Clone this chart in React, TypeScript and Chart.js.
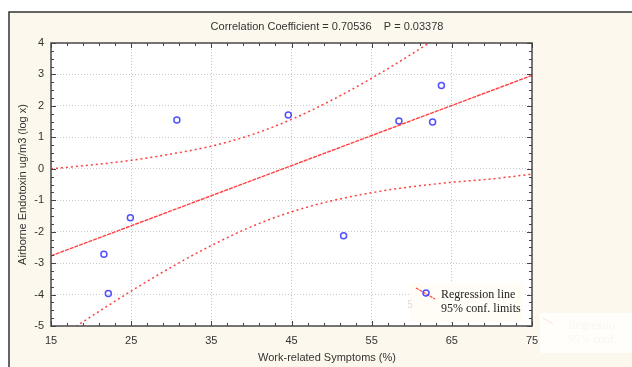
import React, { useEffect, useRef } from "react";
import { Chart, registerables } from "chart.js";

Chart.register(...registerables);

// ---- data ----
const pointX = [21.6, 22.15, 24.9, 30.7, 44.6, 51.5, 58.4, 62.6, 63.7];
const pointY = [-2.72, -3.97, -1.56, 1.55, 1.71, -2.13, 1.52, 1.49, 2.65];
const lineX = [15, 75];
const lineY = [-2.77, 2.97];
const bandX = [15, 20, 25, 30, 35, 40, 45, 50, 55, 60, 65, 70, 75];
const upperY = [0.0, 0.12, 0.27, 0.47, 0.72, 1.08, 1.57, 2.18, 2.88, 3.65, 4.47, 5.3, 6.11];
const lowerY = [-5.54, -4.7, -3.89, -3.13, -2.44, -1.84, -1.37, -1.02, -0.76, -0.57, -0.43, -0.32, -0.17];
const xTicks = [15, 25, 35, 45, 55, 65, 75];
const yTicks = [-5, -4, -3, -2, -1, 0, 1, 2, 3, 4];
const titleText = "Correlation Coefficient = 0.70536    P = 0.03378";
const xTitle = "Work-related Symptoms (%)";
const yTitle = "Airborne Endotoxin ug/m3 (log x)";
const legendLabels = ["Regression line", "95% conf. limits"];

const SANS = "'Liberation Sans', Arial, sans-serif";
const SERIF = "'Liberation Serif', 'Times New Roman', serif";
const CREAM = "#fdf8ed";
const RED = "rgba(255,30,30,0.85)";
const BLUE = "#5050ff";

const zip = (xs: number[], ys: number[]) => xs.map((x, i) => ({ x, y: ys[i] }));

const decorPlugin = {
  id: "decor",
  beforeDraw(chart: any) {
    const { ctx, chartArea: a } = chart;
    ctx.save();
    ctx.fillStyle = "#ffffff";
    ctx.fillRect(0, 0, chart.width, chart.height);
    ctx.fillStyle = CREAM;
    ctx.fillRect(9, 12, chart.width - 9, chart.height - 12);
    ctx.strokeStyle = "#333";
    ctx.lineWidth = 1.5;
    ctx.beginPath();
    ctx.moveTo(9, chart.height);
    ctx.lineTo(9, 12);
    ctx.lineTo(chart.width, 12);
    ctx.stroke();
    ctx.fillStyle = "#ffffff";
    ctx.fillRect(a.left, a.top, a.right - a.left, a.bottom - a.top);
    // ghost legend outside plot
    ctx.fillStyle = "#fffefa";
    ctx.fillRect(540, 313, 92, 40);
    ctx.strokeStyle = "rgba(255,80,80,0.18)";
    ctx.lineWidth = 1;
    ctx.beginPath();
    ctx.moveTo(543, 318);
    ctx.lineTo(553, 324);
    ctx.stroke();
    ctx.fillStyle = "rgba(200,190,170,0.12)";
    ctx.font = `12px ${SERIF}`;
    ctx.textBaseline = "middle";
    ctx.fillText("Regressio", 568, 326);
    ctx.fillText("95% conf.", 568, 340);
    ctx.restore();
  },
  afterDraw(chart: any) {
    const { ctx, chartArea: a, scales } = chart;
    const xs = scales.x;
    const ys = scales.y;
    ctx.save();
    // frame
    ctx.strokeStyle = "#555";
    ctx.lineWidth = 1.6;
    ctx.strokeRect(a.left, a.top, a.right - a.left, a.bottom - a.top);
    // ticks (inward)
    ctx.lineWidth = 1;
    ctx.strokeStyle = "#444";
    ctx.beginPath();
    for (let v = 15; v <= 75.001; v += 2) {
      const px = Math.round(xs.getPixelForValue(v)) + 0.5;
      const len = (v - 15) % 10 === 0 ? 5 : 3;
      ctx.moveTo(px, a.bottom);
      ctx.lineTo(px, a.bottom - len);
      ctx.moveTo(px, a.top);
      ctx.lineTo(px, a.top + len);
    }
    for (let v = -5; v <= 4.001; v += 0.25) {
      const py = Math.round(ys.getPixelForValue(v)) + 0.5;
      const len = Math.abs(v - Math.round(v)) < 1e-6 ? 5 : 3;
      ctx.moveTo(a.left, py);
      ctx.lineTo(a.left + len, py);
      ctx.moveTo(a.right, py);
      ctx.lineTo(a.right - len, py);
    }
    ctx.stroke();
    // title
    ctx.fillStyle = "#333";
    ctx.font = `11px ${SANS}`;
    ctx.textAlign = "center";
    ctx.textBaseline = "middle";
    ctx.fillText(titleText, 327, 27);
    // x title
    ctx.fillText(xTitle, 327, 358);
    // y title
    ctx.save();
    ctx.translate(23, (a.top + a.bottom) / 2);
    ctx.rotate(-Math.PI / 2);
    ctx.fillText(yTitle, 0, 0);
    ctx.restore();
    // legend
    ctx.fillStyle = "#fffdf6";
    ctx.fillRect(410, 283, 113, 39);
    ctx.fillStyle = "rgba(200,200,200,0.6)";
    ctx.font = `10px ${SANS}`;
    ctx.fillText("5", 410, 305);
    ctx.strokeStyle = RED;
    ctx.lineWidth = 1.2;
    ctx.setLineDash([3, 1]);
    ctx.beginPath();
    ctx.moveTo(416, 288);
    ctx.lineTo(435, 299);
    ctx.stroke();
    ctx.setLineDash([]);
    ctx.strokeStyle = BLUE;
    ctx.lineWidth = 1.5;
    ctx.beginPath();
    ctx.arc(426, 293, 3, 0, Math.PI * 2);
    ctx.stroke();
    ctx.fillStyle = "#222";
    ctx.font = `12px ${SERIF}`;
    ctx.textAlign = "left";
    ctx.fillText(legendLabels[0], 441, 295);
    ctx.fillText(legendLabels[1], 441, 309);
    ctx.restore();
  },
};

export default function App() {
  const ref = useRef<HTMLCanvasElement | null>(null);
  useEffect(() => {
    if (!ref.current) return;
    const chart = new Chart(ref.current, {
      type: "scatter",
      data: {
        datasets: [
          {
            label: "upper",
            data: zip(bandX, upperY),
            showLine: true,
            borderColor: RED,
            borderWidth: 1.5,
            borderDash: [2, 3],
            pointRadius: 0,
            cubicInterpolationMode: "monotone",
          } as any,
          {
            label: "lower",
            data: zip(bandX, lowerY),
            showLine: true,
            borderColor: RED,
            borderWidth: 1.5,
            borderDash: [2, 3],
            pointRadius: 0,
            cubicInterpolationMode: "monotone",
          } as any,
          {
            label: "regression",
            data: zip(lineX, lineY),
            showLine: true,
            borderColor: RED,
            borderWidth: 1.4,
            borderDash: [4, 1],
            pointRadius: 0,
          } as any,
          {
            label: "points",
            data: zip(pointX, pointY),
            showLine: false,
            pointRadius: 3,
            pointBorderWidth: 1.5,
            pointBorderColor: BLUE,
            pointBackgroundColor: "rgba(255,255,255,0)",
            borderColor: BLUE,
          } as any,
        ],
      },
      options: {
        animation: false,
        responsive: false,
        devicePixelRatio: 1,
        layout: { padding: { top: 43, right: 100, left: 0, bottom: 0 } },
        plugins: {
          legend: { display: false },
          title: { display: false },
          tooltip: { enabled: false },
        },
        scales: {
          x: {
            type: "linear",
            min: 15,
            max: 75,
            afterBuildTicks: (s: any) => {
              s.ticks = xTicks.map((v) => ({ value: v }));
            },
            afterFit: (s: any) => {
              s.height = 41;
            },
            ticks: {
              color: "#333",
              font: { family: SANS, size: 11 },
              padding: 8,
              maxRotation: 0,
            },
            grid: { color: "#c8c8c8", drawTicks: false, lineWidth: 1 },
            border: { display: false, dash: [1, 2] },
          },
          y: {
            type: "linear",
            min: -5,
            max: 4,
            afterBuildTicks: (s: any) => {
              s.ticks = yTicks.map((v) => ({ value: v }));
            },
            afterFit: (s: any) => {
              s.width = 51;
            },
            ticks: {
              color: "#333",
              font: { family: SANS, size: 11 },
              padding: 7,
            },
            grid: { color: "#c8c8c8", drawTicks: false, lineWidth: 1 },
            border: { display: false, dash: [1, 2] },
          },
        },
      },
      plugins: [decorPlugin],
    });
    return () => chart.destroy();
  }, []);
  return (
    <div style={{ position: "absolute", left: 0, top: 0, width: 632, height: 367, background: "#fff" }}>
      <canvas ref={ref} width={632} height={367} style={{ display: "block" }} />
    </div>
  );
}
